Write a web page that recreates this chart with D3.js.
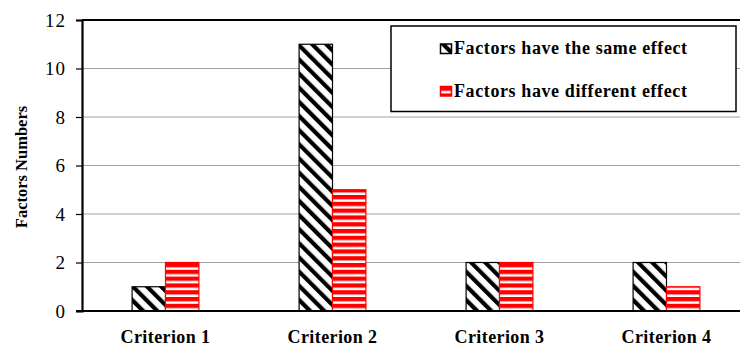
<!DOCTYPE html>
<html>
<head>
<meta charset="utf-8">
<script src="https://cdn.jsdelivr.net/npm/d3@7"></script>
<style>
body { margin: 0; background: #fff; }
</style>
</head>
<body>
<div id="chart"></div>
<script>
var categories = ['Criterion 1', 'Criterion 2', 'Criterion 3', 'Criterion 4'];
var seriesNames = ['Factors have the same effect', 'Factors have different effect'];
var sameEffect = [1, 11, 2, 2];
var differentEffect = [2, 5, 2, 1];
var yTicks = [0, 2, 4, 6, 8, 10, 12];

var FONT = 'Liberation Serif';

var W = 740, H = 347;
var margin = {top: 20, right: -10, bottom: 36, left: 82},
    width = W - margin.left - margin.right,
    height = H - margin.top - margin.bottom;

var svg = d3.select('#chart').append('svg')
    .attr('width', W).attr('height', H)
    .attr('font-family', FONT);

// patterns
var defs = svg.append('defs');
var p1 = defs.append('pattern').attr('id', 'diag')
    .attr('patternUnits', 'userSpaceOnUse')
    .attr('width', 10).attr('height', 10)
    .attr('patternTransform', 'rotate(-45)');
p1.append('rect').attr('width', 10).attr('height', 10).attr('fill', '#fff');
p1.append('rect').attr('x', 0).attr('width', 4.2).attr('height', 10).attr('fill', '#000');

var p2 = defs.append('pattern').attr('id', 'horiz')
    .attr('patternUnits', 'userSpaceOnUse')
    .attr('width', 10).attr('height', 6.8)
    .attr('y', margin.top + height);
p2.append('rect').attr('width', 10).attr('height', 6.8).attr('fill', '#fff');
p2.append('rect').attr('y', 0).attr('width', 10).attr('height', 4.3).attr('fill', '#ff0000');

var g = svg.append('g')
    .attr('transform', 'translate(' + margin.left + ',' + margin.top + ')');

var y = d3.scaleLinear().domain([0, 12]).range([height, 0]);
var x0 = d3.scaleBand().domain(categories).range([0, width])
    .paddingInner(0.6).paddingOuter(0.3);
var x1 = d3.scaleBand().domain([0, 1]).range([0, x0.bandwidth()]);

// gridlines
g.selectAll('.grid').data(yTicks.filter(function(d) { return d > 0 && d < 12; }))
  .enter().append('line')
    .attr('x1', 0).attr('x2', width)
    .attr('y1', function(d) { return y(d); })
    .attr('y2', function(d) { return y(d); })
    .attr('stroke', '#a0a0a0').attr('stroke-width', 1.2);

// top border
g.append('line').attr('x1', 0).attr('x2', width)
    .attr('y1', y(12)).attr('y2', y(12))
    .attr('stroke', '#000').attr('stroke-width', 2);

// bars
var data = categories.map(function(c, i) {
    return {cat: c, vals: [sameEffect[i], differentEffect[i]]};
});
var groups = g.selectAll('.grp').data(data).enter().append('g')
    .attr('transform', function(d) { return 'translate(' + x0(d.cat) + ',0)'; });
groups.selectAll('rect').data(function(d) { return d.vals; })
  .enter().append('rect')
    .attr('x', function(d, i) { return x1(i); })
    .attr('y', function(d) { return y(d); })
    .attr('width', x1.bandwidth())
    .attr('height', function(d) { return height - y(d); })
    .attr('fill', function(d, i) { return i == 0 ? 'url(#diag)' : 'url(#horiz)'; })
    .attr('stroke', function(d, i) { return i == 0 ? '#000' : '#ff0000'; })
    .attr('stroke-width', 1.2);

// y axis
var yAxis = g.append('g')
    .call(d3.axisLeft(y).tickValues(yTicks).tickSize(6).tickPadding(10))
    .attr('font-family', FONT).attr('font-size', 19);
yAxis.select('.domain').attr('stroke', '#000').attr('stroke-width', 2.2);
yAxis.selectAll('.tick line').attr('stroke', '#000').attr('stroke-width', 1.2);
yAxis.selectAll('.tick text').attr('fill', '#000').attr('letter-spacing', 1);

// x axis line
g.append('line').attr('x1', -6).attr('x2', width)
    .attr('y1', height).attr('y2', height)
    .attr('stroke', '#000').attr('stroke-width', 2.2);

// x labels
g.selectAll('.xlab').data(categories).enter().append('text')
    .attr('x', function(d) { return x0(d) + x0.bandwidth() / 2; })
    .attr('y', height + 32)
    .attr('text-anchor', 'middle')
    .attr('font-size', 18).attr('font-weight', 'bold')
    .attr('letter-spacing', 0.4)
    .text(function(d) { return d; });

// y title
svg.append('text')
    .attr('transform', 'translate(27,167) rotate(-90)')
    .attr('text-anchor', 'middle')
    .attr('font-size', 16.5).attr('font-weight', 'bold')
    .text('Factors Numbers');

// legend
var lg = svg.append('g');
lg.append('rect').attr('x', 391).attr('y', 26).attr('width', 345).attr('height', 85.5)
    .attr('fill', '#fff').attr('stroke', '#000').attr('stroke-width', 1.5);
var legY = [54, 96.5];
seriesNames.forEach(function(s, i) {
    lg.append('rect').attr('x', 440.5).attr('y', legY[i] - 10).attr('width', 11).attr('height', 9.5)
        .attr('fill', i == 0 ? 'url(#diag)' : 'url(#horiz)')
        .attr('stroke', i == 0 ? '#000' : '#ff0000').attr('stroke-width', 1.5);
    lg.append('text').attr('x', 454).attr('y', legY[i])
        .attr('font-size', 18).attr('font-weight', 'bold')
        .attr('letter-spacing', 0.6)
        .text(s);
});
</script>
</body>
</html>
